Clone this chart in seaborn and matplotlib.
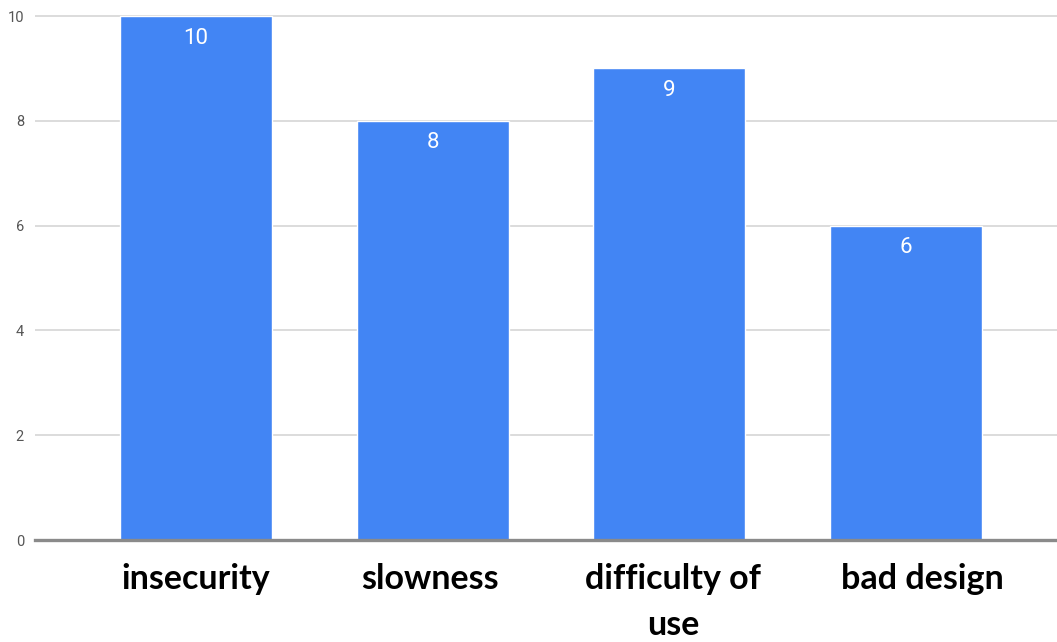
import matplotlib
matplotlib.use("Agg")
import matplotlib.pyplot as plt
import matplotlib.transforms as mtransforms
import seaborn as sns
import pandas as pd

categories = ["insecurity", "slowness", "difficulty of\nuse", "bad design"]
counts = [10, 8, 9, 6]
y_ticks = [0, 2, 4, 6, 8, 10]

BAR_COLOR = "#4285F4"

sns.set_theme(style="white")
plt.rcParams["font.family"] = ["Roboto", "DejaVu Sans"]

df = pd.DataFrame({"reason": categories, "count": counts})

fig = plt.figure(figsize=(10.57, 6.42), dpi=100)
# axes spans from the gridline start to the right edge of the figure
ax = fig.add_axes([35 / 1057, (642 - 540) / 642, 1 - 35 / 1057, (540 - 10) / 642])

sns.barplot(data=df, x="reason", y="count", color=BAR_COLOR, saturation=1,
            width=0.643, ax=ax, zorder=3)

unit = (540 - 16) / 10.0
ax.set_ylim(0, (540 - 10) / unit)
ax.set_xlim(-0.681, 3.64)

ax.set_yticks(y_ticks)
ax.set_yticklabels([str(t) for t in y_ticks], color="#555555", fontsize=10.5)
ax.tick_params(axis="y", length=0, pad=8)

# category labels hung below the axis line
ax.set_xticks(range(len(categories)))
ax.set_xticklabels([])
ax.tick_params(axis="x", length=0)
label_dx = [0, -3, 4, 17]  # small horizontal nudges in pixels
for i, name in enumerate(categories):
    trans = ax.get_xaxis_transform() + mtransforms.ScaledTranslation(
        label_dx[i] / 100, -23 / 100, fig.dpi_scale_trans)
    ax.text(i, 0, name, transform=trans, ha="center", va="top",
            multialignment="center", family=["Lato", "DejaVu Sans"],
            fontweight="bold", fontsize=24.5, color="black", linespacing=1.55,
            clip_on=False)

ax.grid(axis="y", color="#dcdcdc", linewidth=1.4, zorder=0)
ax.grid(axis="x", visible=False)
for side in ["top", "right", "left"]:
    ax.spines[side].set_visible(False)
ax.spines["bottom"].set_color("#8a8a8a")
ax.spines["bottom"].set_linewidth(2.4)
ax.spines["bottom"].set_zorder(4)

ax.set_xlabel("")
ax.set_ylabel("")

for i, v in enumerate(counts):
    ax.text(i, v - 0.42, str(v), ha="center", va="center", color="white",
            fontsize=16, zorder=5)

fig.savefig("out.png", dpi=100)
